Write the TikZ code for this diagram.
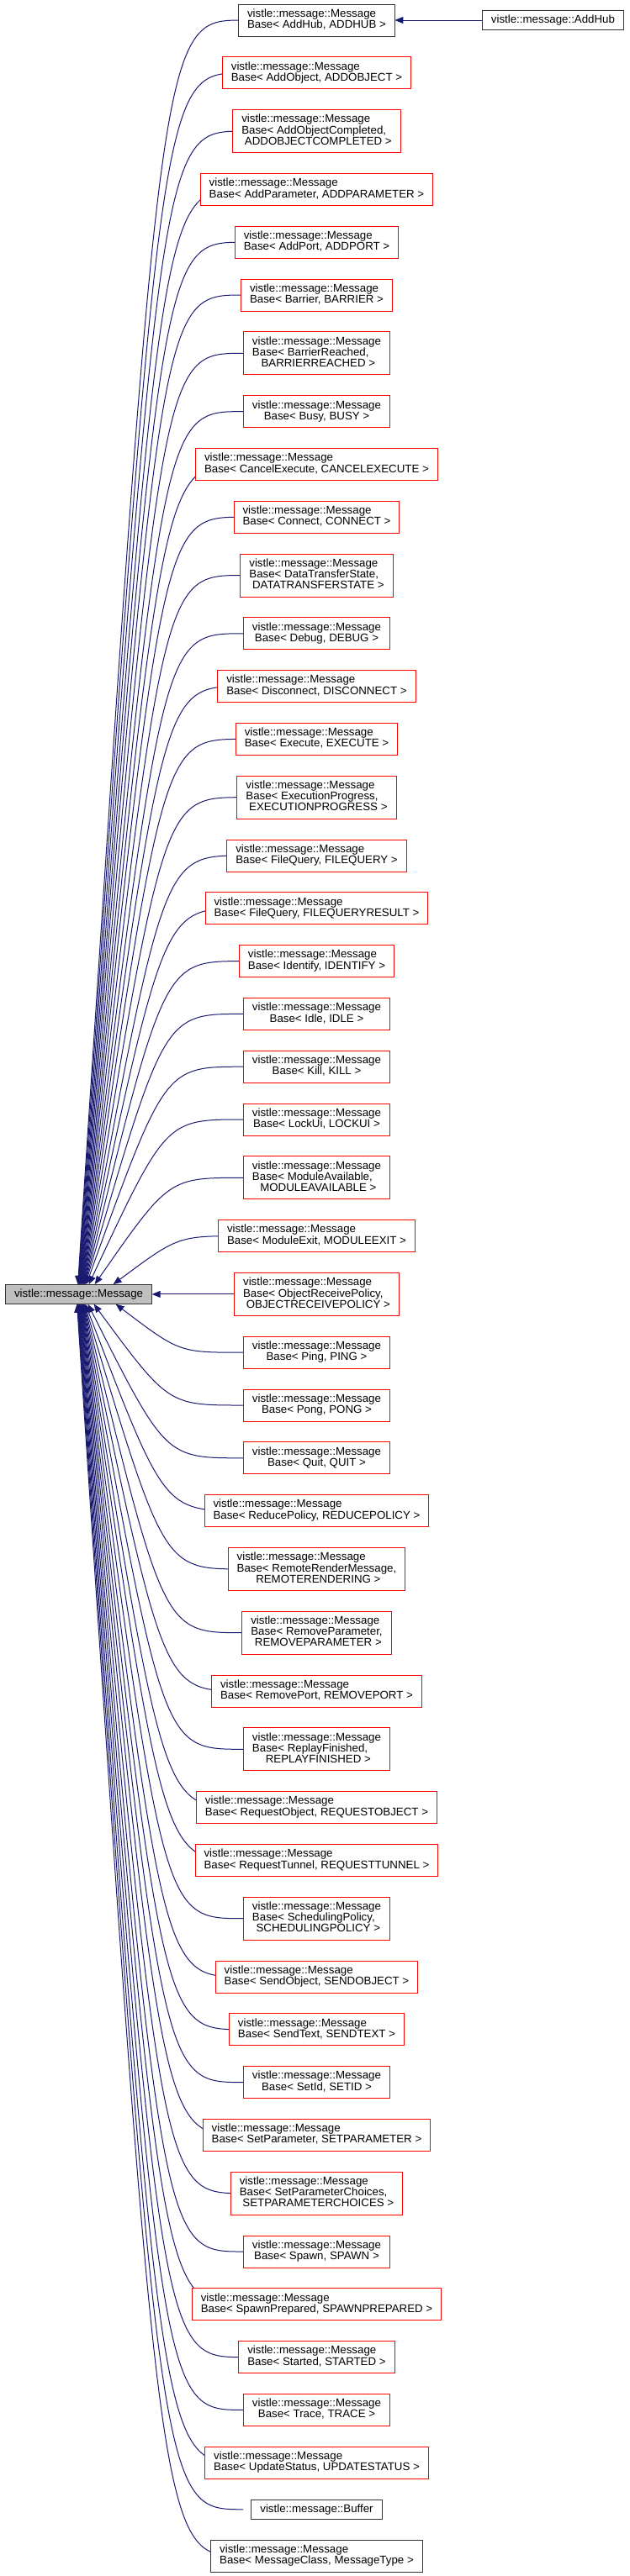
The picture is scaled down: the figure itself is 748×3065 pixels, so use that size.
\documentclass[tikz,border=0pt]{standalone}
\usepackage{fontspec}
\setmainfont{Liberation Sans}
\usetikzlibrary{arrows.meta}
\usetikzlibrary{positioning, calc}
\definecolor{midnightblue}{RGB}{25,25,112}
\newcommand{\msgbase}[1]{\begin{tabular}{@{}l@{}}vistle::message::Message\\\multicolumn{1}{@{}c@{}}{#1}\end{tabular}}
\newcommand{\msgbaselong}[2]{\begin{tabular}{@{}l@{}}vistle::message::Message\\#1\\\multicolumn{1}{@{}c@{}}{#2}\end{tabular}}
\pgfdeclarelayer{edges}
\pgfsetlayers{edges,main}
\tikzset{
	cls/.style={draw=black!80, fill=white, line width=1pt, outer sep=0pt, inner xsep=10.5pt, inner ysep=2pt, minimum height=38pt, font=\fontsize{13.3}{12.4}\selectfont},
	trunc/.style={cls, draw=red},
	tall/.style={minimum height=51pt},
	flat/.style={minimum height=23.5pt},
	inherit/.style={draw=midnightblue, line width=1pt, arrows={Triangle[length=10pt, width=8pt]-}}
}

\begin{document}
\begin{tikzpicture}[x=1pt, y=1pt, node distance=24.8pt]
	\useasboundingbox (0,0) rectangle (748,-3065);
	
	\node[cls] (hub) at (376.5,-24) {\msgbase{Base< AddHub, ADDHUB >}};
	\node[cls, flat, right=104pt of hub] (addhub) {vistle::message::AddHub};
	\node[trunc, below=of hub] (addobj) {\msgbase{Base< AddObject, ADDOBJECT >}};
	\node[trunc, tall, below=of addobj] (addobjc) {\msgbaselong{Base< AddObjectCompleted,}{\ ADDOBJECTCOMPLETED >}};
	\node[trunc, below=of addobjc] (addpar) {\msgbase{Base< AddParameter, ADDPARAMETER >}};
	\node[trunc, below=of addpar] (addport) {\msgbase{Base< AddPort, ADDPORT >}};
	\node[trunc, below=of addport] (barrier) {\msgbase{Base< Barrier, BARRIER >}};
	\node[trunc, tall, below=of barrier] (barrierr) {\msgbaselong{Base< BarrierReached,}{\ BARRIERREACHED >}};
	\node[trunc, below=of barrierr] (busy) {\msgbase{Base< Busy, BUSY >}};
	\node[trunc, below=of busy] (cancel) {\msgbase{Base< CancelExecute, CANCELEXECUTE >}};
	\node[trunc, below=of cancel] (connect) {\msgbase{Base< Connect, CONNECT >}};
	\node[trunc, tall, below=of connect] (dts) {\msgbaselong{Base< DataTransferState,}{\ DATATRANSFERSTATE >}};
	\node[trunc, below=of dts] (debug) {\msgbase{Base< Debug, DEBUG >}};
	\node[trunc, below=of debug] (disconnect) {\msgbase{Base< Disconnect, DISCONNECT >}};
	\node[trunc, below=of disconnect] (execute) {\msgbase{Base< Execute, EXECUTE >}};
	\node[trunc, tall, below=of execute] (execprog) {\msgbaselong{Base< ExecutionProgress,}{\ EXECUTIONPROGRESS >}};
	\node[trunc, below=of execprog] (fq) {\msgbase{Base< FileQuery, FILEQUERY >}};
	\node[trunc, below=of fq] (fqr) {\msgbase{Base< FileQuery, FILEQUERYRESULT >}};
	\node[trunc, below=of fqr] (identify) {\msgbase{Base< Identify, IDENTIFY >}};
	\node[trunc, below=of identify] (idle) {\msgbase{Base< Idle, IDLE >}};
	\node[trunc, below=of idle] (kill) {\msgbase{Base< Kill, KILL >}};
	\node[trunc, below=of kill] (lockui) {\msgbase{Base< LockUi, LOCKUI >}};
	\node[trunc, tall, below=of lockui] (modav) {\msgbaselong{Base< ModuleAvailable,}{\ MODULEAVAILABLE >}};
	\node[trunc, below=of modav] (modexit) {\msgbase{Base< ModuleExit, MODULEEXIT >}};
	\node[trunc, tall, below=of modexit] (orp) {\msgbaselong{Base< ObjectReceivePolicy,}{\ OBJECTRECEIVEPOLICY >}};
	\node[trunc, below=of orp] (ping) {\msgbase{Base< Ping, PING >}};
	\node[trunc, below=of ping] (pong) {\msgbase{Base< Pong, PONG >}};
	\node[trunc, below=of pong] (quit) {\msgbase{Base< Quit, QUIT >}};
	\node[trunc, below=of quit] (reduce) {\msgbase{Base< ReducePolicy, REDUCEPOLICY >}};
	\node[trunc, tall, below=of reduce] (rrm) {\msgbaselong{Base< RemoteRenderMessage,}{\ REMOTERENDERING >}};
	\node[trunc, tall, below=of rrm] (rmpar) {\msgbaselong{Base< RemoveParameter,}{\ REMOVEPARAMETER >}};
	\node[trunc, below=of rmpar] (rmport) {\msgbase{Base< RemovePort, REMOVEPORT >}};
	\node[trunc, tall, below=of rmport] (replay) {\msgbaselong{Base< ReplayFinished,}{\ REPLAYFINISHED >}};
	\node[trunc, below=of replay] (reqobj) {\msgbase{Base< RequestObject, REQUESTOBJECT >}};
	\node[trunc, below=of reqobj] (reqtun) {\msgbase{Base< RequestTunnel, REQUESTTUNNEL >}};
	\node[trunc, tall, below=of reqtun] (sched) {\msgbaselong{Base< SchedulingPolicy,}{\ SCHEDULINGPOLICY >}};
	\node[trunc, below=of sched] (sendobj) {\msgbase{Base< SendObject, SENDOBJECT >}};
	\node[trunc, below=of sendobj] (sendtext) {\msgbase{Base< SendText, SENDTEXT >}};
	\node[trunc, below=of sendtext] (setid) {\msgbase{Base< SetId, SETID >}};
	\node[trunc, below=of setid] (setpar) {\msgbase{Base< SetParameter, SETPARAMETER >}};
	\node[trunc, tall, below=of setpar] (setparch) {\msgbaselong{Base< SetParameterChoices,}{\ SETPARAMETERCHOICES >}};
	\node[trunc, below=of setparch] (spawn) {\msgbase{Base< Spawn, SPAWN >}};
	\node[trunc, below=of spawn] (spawnprep) {\msgbase{Base< SpawnPrepared, SPAWNPREPARED >}};
	\node[trunc, below=of spawnprep] (started) {\msgbase{Base< Started, STARTED >}};
	\node[trunc, below=of started] (trace) {\msgbase{Base< Trace, TRACE >}};
	\node[trunc, below=of trace] (update) {\msgbase{Base< UpdateStatus, UPDATESTATUS >}};
	\node[cls, flat, below=of update] (buffer) {vistle::message::Buffer};
	\node[cls, below=of buffer] (mbase) {\msgbase{Base< MessageClass, MessageType >}};
	
	\node[cls, flat, fill=black!25, left=98pt of orp] (msg) {vistle::message::Message};
	
	\begin{pgfonlayer}{edges}
		\draw[inherit] (hub.east) -- (addhub.west);
		\draw[inherit] (msg.east) -- (orp.west);
		\foreach \c/\s in {hub/86, addobj/86.5, addobjc/87, addpar/87.5, addport/88, barrier/88.5, barrierr/89, busy/89.5, cancel/90, connect/90.5, dts/91, debug/91.5, disconnect/92, execute/92.5, execprog/93, fq/93.5, fqr/94, identify/94.5, idle/95, kill/96, lockui/99, modav/106, modexit/128}
			\draw[inherit] let \p1=([xshift=\s pt]msg.north west), \p2=([xshift=-87.5pt]\c.center) in (\p1) .. controls ({\x2-0.5*(\x2-\x1)},\y2) .. (\p2);
		\foreach \c/\s in {ping/131, pong/105, quit/98, reduce/95, rrm/94, rmpar/93.5, rmport/93, replay/92.5, reqobj/92, reqtun/91.5, sched/91, sendobj/90.5, sendtext/90, setid/89.5, setpar/89, setparch/88.5, spawn/88, spawnprep/87.5, started/87, trace/86.5, update/86, buffer/85.5, mbase/85}
			\draw[inherit] let \p1=([xshift=\s pt]msg.south west), \p2=([xshift=-87.5pt]\c.center) in (\p1) .. controls ({\x2-0.5*(\x2-\x1)},\y2) .. (\p2);
	\end{pgfonlayer}
\end{tikzpicture}
\end{document}
